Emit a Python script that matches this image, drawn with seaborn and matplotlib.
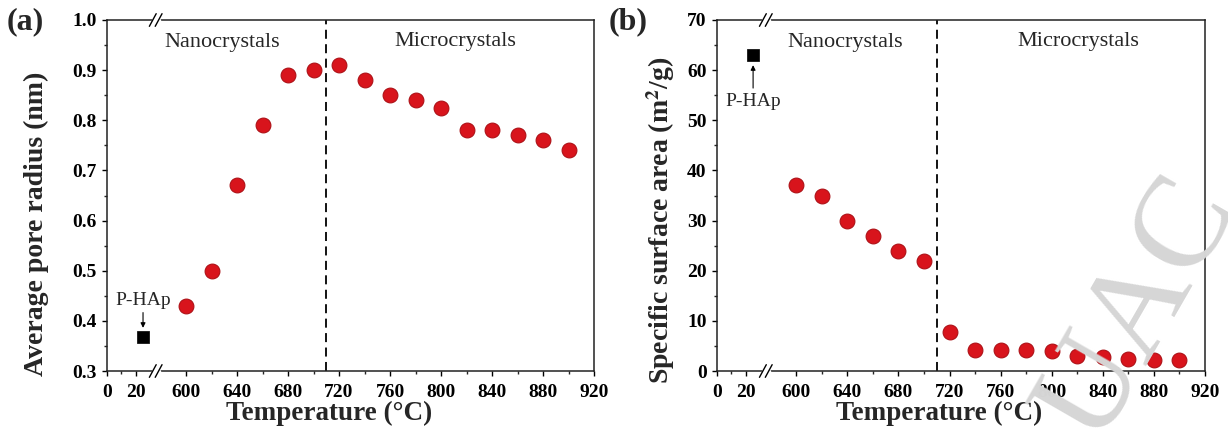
import numpy as np
import pandas as pd
import matplotlib
matplotlib.use("Agg")
import matplotlib.pyplot as plt
import seaborn as sns

# ---------------- data ----------------
temps = [600, 620, 640, 660, 680, 700, 720, 740, 760, 780, 800, 820, 840, 860, 880, 900]
pore_radius = [0.43, 0.50, 0.67, 0.79, 0.89, 0.90, 0.91, 0.88, 0.85, 0.84, 0.825,
               0.78, 0.78, 0.77, 0.76, 0.74]
surface_area = [37, 35, 30, 27, 24, 22, 7.7, 4.2, 4.2, 4.1, 4.0, 2.9, 2.7, 2.4, 2.2, 2.1]
phap_temp = [25]
phap_radius = [0.367]
phap_area = [63]
xtick_major = [0, 20, 600, 640, 680, 720, 760, 800, 840, 880, 920]
xtick_minor = [10, 620, 660, 700, 740, 780, 820, 860, 900]

sns.set_theme(style="ticks")
plt.rcParams['font.family'] = ['Liberation Serif', 'DejaVu Serif']
plt.rcParams['mathtext.fontset'] = 'stix'

# broken x-axis: piecewise linear scale
XP = [0, 33, 580, 920]
UP = [0, 37.3, 42, 382]
def fwd(x):
    return np.interp(np.asarray(x, dtype=float), XP, UP)
def inv(u):
    return np.interp(np.asarray(u, dtype=float), UP, XP)

fig = plt.figure(figsize=(12.28, 4.29), dpi=100)
axA = fig.add_axes([107/1228, 1-371/429, 487/1228, 351/429])
axB = fig.add_axes([717/1228, 1-371/429, 488/1228, 351/429])

red = '#d8141c'
edge = '#a80c12'

dfA = pd.DataFrame({'T': temps, 'v': pore_radius})
dfB = pd.DataFrame({'T': temps, 'v': surface_area})
pA = pd.DataFrame({'T': phap_temp, 'v': phap_radius})
pB = pd.DataFrame({'T': phap_temp, 'v': phap_area})

def style_axis(ax, ylim, yticks, yminor, ylabel, df, pdf):
    ax.set_xscale('function', functions=(fwd, inv))
    sns.scatterplot(data=df, x='T', y='v', ax=ax, s=115, color=red,
                    edgecolor=edge, linewidth=0.7, zorder=3)
    sns.scatterplot(data=pdf, x='T', y='v', ax=ax, s=75, marker='s', color='black',
                    edgecolor='black', linewidth=0.5, zorder=3)
    ax.set_xlim(0, 920)
    ax.set_ylim(*ylim)
    ax.axvline(710, color='black', ls=(0, (5, 3)), lw=1.3, zorder=2)
    ax.set_xticks(xtick_major)
    ax.set_xticks(xtick_minor, minor=True)
    ax.set_yticks(yticks)
    ax.set_yticks(yminor, minor=True)
    ax.tick_params(axis='both', which='major', direction='out', length=3.5, width=1.0,
                   labelsize=14, colors='black')
    ax.tick_params(axis='x', which='major', pad=6)
    ax.tick_params(axis='y', which='major', pad=4)
    ax.tick_params(axis='both', which='minor', direction='out', length=2.2, width=1.0)
    for lab in ax.get_xticklabels() + ax.get_yticklabels():
        lab.set_fontweight('bold')
    for sp in ax.spines.values():
        sp.set_visible(True)
        sp.set_color('#222222')
        sp.set_linewidth(1.1)
    ax.set_xlabel('Temperature (°C)', fontsize=19.5, fontweight='bold')
    ax.xaxis.set_label_coords(0.456, -0.086)
    ax.set_ylabel(ylabel, fontsize=20, fontweight='bold')
    ax.grid(False)
    # break marks on top and bottom spines
    for yb in (0, 1):
        ax.plot([0.094, 0.106], [yb, yb], transform=ax.transAxes, color='white',
                lw=2.5, clip_on=False, zorder=5)
        for xc in (0.094, 0.106):
            ax.plot([xc - 0.007, xc + 0.007], [yb - 0.018, yb + 0.018],
                    transform=ax.transAxes, color='black', lw=1.0, clip_on=False, zorder=6)

style_axis(axA, (0.3, 1.0), np.round(np.arange(0.3, 1.01, 0.1), 2),
           np.round(np.arange(0.35, 1.0, 0.1), 2), 'Average pore radius (nm)', dfA, pA)
style_axis(axB, (0, 70), np.arange(0, 71, 10), np.arange(5, 70, 10),
           'Specific surface area (m$^{\\mathbf{2}}$/g)', dfB, pB)

axA.yaxis.set_label_coords(-0.119, 0.418)
axB.yaxis.set_label_coords(-0.082, 0.43)

# region labels
axA.text(628, 0.956, 'Nanocrystals', ha='center', va='center', fontsize=16)
axA.text(811, 0.958, 'Microcrystals', ha='center', va='center', fontsize=16)
axB.text(638, 65.6, 'Nanocrystals', ha='center', va='center', fontsize=16)
axB.text(821, 65.8, 'Microcrystals', ha='center', va='center', fontsize=16)

# P-HAp annotations
axA.annotate('P-HAp', xy=(25, 0.386), xytext=(25, 0.44), ha='center', va='center',
             fontsize=14, arrowprops=dict(arrowstyle='-|>', color='black', lw=0.8,
                                          mutation_scale=7, shrinkA=0, shrinkB=0))
axB.annotate('P-HAp', xy=(25, 61.0), xytext=(25, 53.8), ha='center', va='center',
             fontsize=14, arrowprops=dict(arrowstyle='-|>', color='black', lw=0.8,
                                          mutation_scale=7, shrinkA=1, shrinkB=0))

fig.text(25/1228, 1-22/429, '(a)', fontsize=23, fontweight='bold', ha='center', va='center')
fig.text(628/1228, 1-22/429, '(b)', fontsize=23, fontweight='bold', ha='center', va='center')

# faint watermark
fig.text(1140/1228, 1-310/429, 'UAC', fontsize=95, color='#d6d6d6', rotation=60,
         ha='center', va='center', zorder=0)

fig.savefig('out.png', dpi=100)
